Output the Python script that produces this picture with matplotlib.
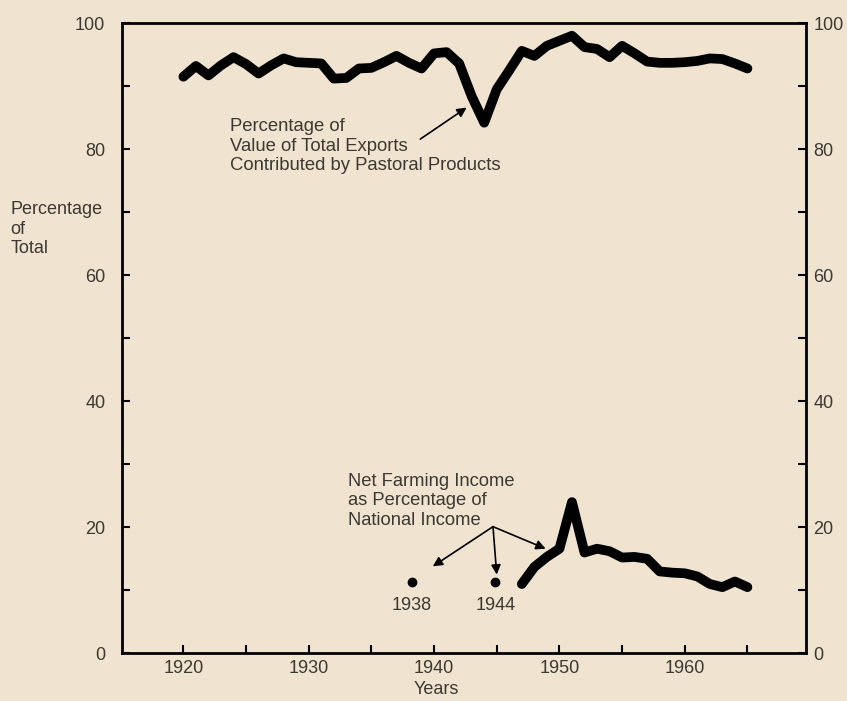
import matplotlib
matplotlib.use("Agg")
import matplotlib.pyplot as plt
from matplotlib.ticker import MultipleLocator
from matplotlib.transforms import ScaledTranslation

plt.rcParams['font.family'] = ['Liberation Sans', 'DejaVu Sans']

# share of total exports from pastoral products, %
export_years = list(range(1920, 1966))
export_pct = [91.5, 93.2, 91.7, 93.3, 94.6, 93.5, 92.0, 93.3, 94.4, 93.8,
              93.7, 93.6, 91.2, 91.3, 92.8, 92.9, 93.8, 94.8, 93.7, 92.8,
              95.2, 95.4, 93.6, 88.4, 84.2, 89.5, 92.5, 95.6, 94.8, 96.4,
              97.2, 98.0, 96.2, 95.9, 94.6, 96.4, 95.2, 93.9, 93.7, 93.7,
              93.8, 94.0, 94.4, 94.3, 93.6, 92.8]

# net farming income as % of national income
farm_years = list(range(1947, 1966))
farm_pct = [11.0, 13.7, 15.3, 16.6, 24.0, 16.0, 16.6, 16.2, 15.2, 15.3,
            15.0, 13.0, 12.8, 12.7, 12.2, 11.0, 10.5, 11.4, 10.5]

# isolated earlier observations
dot_years = [1938.2, 1944.9]
dot_pct = [11.3, 11.3]
dot_labels = ["1938", "1944"]

bg = "#f0e4d0"
txt = "#3c3833"

fig = plt.figure(figsize=(8.47, 7.01), dpi=100, facecolor=bg)
ax = fig.add_axes([0.144, 0.068, 0.808, 0.899])
ax.set_facecolor(bg)

ax.plot(export_years, export_pct, color="black", lw=7,
        solid_joinstyle="round", solid_capstyle="round")
ax.plot(farm_years, farm_pct, color="black", lw=7,
        solid_joinstyle="round", solid_capstyle="round")
ax.plot(dot_years, dot_pct, "o", color="black", ms=6)
for x, y, lab in zip(dot_years, dot_pct, dot_labels):
    ax.text(x, y - 2.3, lab, ha="center", va="top", fontsize=13, color=txt)

ax.set_xlim(1915.1, 1969.7)
ax.set_ylim(0, 100)

ax.set_xticks([1920, 1930, 1940, 1950, 1960])
ax.xaxis.set_minor_locator(MultipleLocator(5))
ax.yaxis.set_major_locator(MultipleLocator(20))
ax.yaxis.set_minor_locator(MultipleLocator(10))
ax.tick_params(which="both", direction="in", length=6, width=1.5,
               right=True, top=False, labelright=True,
               labelsize=13, labelcolor=txt)
ax.tick_params(axis="y", which="major", pad=12)
ax.tick_params(axis="x", pad=5)
for s in ax.spines.values():
    s.set_linewidth(2)

ax.text(1923.75, 80.5, "Percentage of\nValue of Total Exports\nContributed by Pastoral Products",
        fontsize=13.3, color=txt, va="center", ha="left", linespacing=1.2)
ax.annotate("", xy=(1942.6, 86.6), xytext=(1938.9, 81.6),
            arrowprops=dict(arrowstyle="-|>", color="black", lw=1.2,
                            mutation_scale=14, shrinkA=0, shrinkB=0))

ax.text(1933.1, 24.2, "Net Farming Income\nas Percentage of\nNational Income",
        fontsize=13.2, color=txt, va="center", ha="left", linespacing=1.2)
src = (1944.7, 20.1)
for tgt in [(1939.9, 13.8), (1945.0, 12.5), (1948.9, 16.6)]:
    ax.annotate("", xy=tgt, xytext=src,
                arrowprops=dict(arrowstyle="-|>", color="black", lw=1.2,
                                mutation_scale=14, shrinkA=0, shrinkB=0))

fig.text(0.012, 0.673, "Percentage\nof\nTotal", fontsize=13, color=txt,
         va="center", ha="left", linespacing=1.2)
fig.text(0.515, 0.016, "Years", fontsize=13, color=txt, ha="center", va="center")

# pull right-side tick labels in so "100" fits
fig.canvas.draw()
shift = ScaledTranslation(-7 / 72, 0, fig.dpi_scale_trans)
for t in ax.yaxis.get_major_ticks():
    t.label2.set_transform(t.label2.get_transform() + shift)

fig.savefig("out.png", dpi=100, facecolor=bg)
